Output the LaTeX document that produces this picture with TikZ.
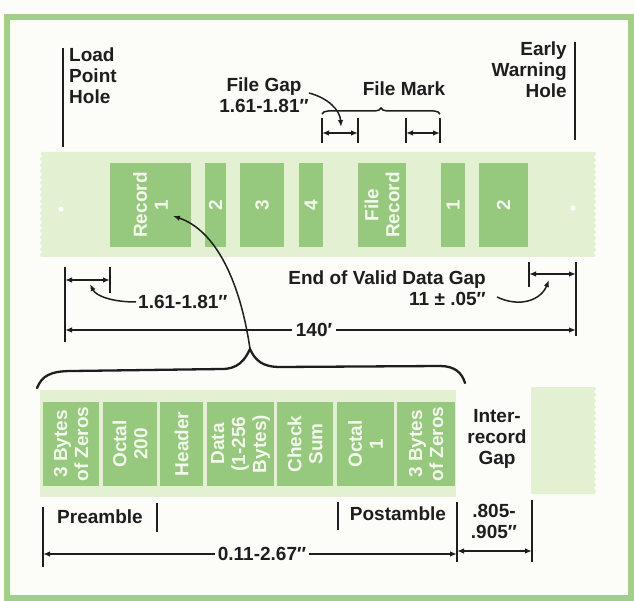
\documentclass[tikz,border=0pt]{standalone}
\usepackage{fontspec}
\setmainfont{Liberation Sans}
\usetikzlibrary{arrows.meta,decorations.pathmorphing,decorations.pathreplacing}
\definecolor{frameg}{RGB}{162,207,138}
\definecolor{tapeg}{RGB}{227,240,210}
\definecolor{recg}{RGB}{150,200,125}
\definecolor{ink}{RGB}{30,30,30}
\definecolor{paper}{RGB}{252,253,249}
\definecolor{rtxt}{RGB}{243,249,237}
\begin{document}
\begin{tikzpicture}[x=1pt,y=-1pt,
  lbl/.style={font=\fontsize{19}{21}\selectfont\bfseries, text=ink, inner sep=0pt},
  rec/.style={fill=recg, rotate=90, inner sep=0pt, font=\fontsize{19}{21}\selectfont\bfseries, text=rtxt, align=center, minimum width=84pt},
  ln/.style={draw=ink, line width=1.5pt},
  dbl/.style={ln, {Latex[length=7pt,width=5.5pt]}-{Latex[length=7pt,width=5.5pt]}},
  arr/.style={ln, -{Latex[length=7pt,width=5.5pt]}},
  torn/.style={decoration={snake, amplitude=1.2pt, segment length=6pt}},
]
\useasboundingbox (0,0) rectangle (634,601);
\fill[paper] (0,0) rectangle (634,601);
\draw[frameg, line width=6pt] (7,17) rectangle (631,598);

% ---------- upper tape ----------
\fill[tapeg] (41,152) -- (595,152) decorate[torn]{-- (595,257)} -- (41,257) decorate[torn]{-- (41,152)} -- cycle;
\node[rec, minimum height=81pt] (r1) at (150.5,205) {Record\\1};
\node[rec, minimum height=21pt] (r2) at (215.5,205) {2};
\node[rec, minimum height=44pt] (r3) at (262,205) {3};
\node[rec, minimum height=24pt] (r4) at (311,205) {4};
\node[rec, minimum height=48pt] (fr) at (382,205) {File\\Record};
\node[rec, minimum height=24pt] (s1) at (453,205) {1};
\node[rec, minimum height=49pt] (s2) at (503.5,205) {2};
\fill[white] (61,209) circle (2.5);
\fill[white] (573,208) circle (2.5);

% ---------- top labels ----------
\node[lbl, align=left, anchor=west] (lph) at (69,76) {Load\\Point\\Hole};
\coordinate (lpt) at (63,48); \coordinate (lpb) at (63,147);
\draw[ln] (lpt) -- (lpb);
\node[lbl, align=right, anchor=east] (ewh) at (567,70) {Early\\Warning\\Hole};
\coordinate (ewt) at (575,42); \coordinate (ewb) at (575,140);
\draw[ln] (ewt) -- (ewb);

\node[lbl, align=center] (fg) at (264,95) {File Gap\\1.61-1.81″};
\node[lbl] (fm) at (404,89) {File Mark};
\coordinate (fmL) at (322,114); \coordinate (fmR) at (440,114);
\draw[ln, decorate, decoration={brace, amplitude=6pt}] (fmL) -- (fmR);
\foreach \n/\x in {g1/322,g2/358,g3/406,g4/440}{
  \coordinate (\n t) at (\x,118); \coordinate (\n b) at (\x,143); \coordinate (\n m) at (\x,133);
  \draw[ln] (\n t) -- (\n b);
}
\draw[dbl] (g1m) -- (g2m);
\draw[dbl] (g3m) -- (g4m);
\coordinate (fgs) at (309,93); \coordinate (fgt) at (341,127);
\draw[arr] (fgs) .. controls (328,98) and (340,110) .. (fgt);

% ---------- dimensions under upper tape ----------
\coordinate (lvt) at (65,267); \coordinate (lvb) at (65,342);
\coordinate (ltt) at (110,267); \coordinate (ltb) at (110,293);
\draw[ln] (lvt) -- (lvb);
\draw[ln] (ltt) -- (ltb);
\coordinate (lda) at (65,280); \coordinate (ldb) at (110,280);
\draw[dbl] (lda) -- (ldb);
\node[lbl, anchor=west] (lpg) at (138,302) {1.61-1.81″};
\coordinate (lcs) at (136,302); \coordinate (lct) at (90,284);
\draw[arr] (lcs) .. controls (112,302) and (96,296) .. (lct);

\coordinate (rvt) at (576,262); \coordinate (rvb) at (576,336);
\coordinate (rtt) at (529,262); \coordinate (rtb) at (529,287);
\draw[ln] (rvt) -- (rvb);
\draw[ln] (rtt) -- (rtb);
\coordinate (rda) at (529,274); \coordinate (rdb) at (576,274);
\draw[dbl] (rda) -- (rdb);
\node[lbl, align=right, anchor=east] (evd) at (486,288) {End of Valid Data Gap\\11 ± .05″};
\coordinate (rcs) at (497,297); \coordinate (rct) at (549,280);
\draw[arr] (rcs) .. controls (520,308) and (541,300) .. (rct);

\node[lbl] (l140) at (314,330) {140′};
\coordinate (l140a) at (65,330); \coordinate (l140b) at (576,330);
\draw[arr] (l140.west) ++(-4,0) -- (l140a);
\draw[arr] (l140.east) ++(4,0) -- (l140b);

% ---------- big brace and arrow ----------
\coordinate (btip) at (250,349);
\draw[ink, line width=2.3pt, line cap=round] (37,388) .. controls (42,376) and (50,371) .. (72,371) -- (222,369)
  .. controls (238,369) and (245,360) .. (btip)
  .. controls (255,360) and (262,367) .. (280,367) -- (440,366)
  .. controls (455,366) and (462,373) .. (465,383);
\coordinate (r1t) at (173,216);
\draw[arr] (btip) .. controls (240,280) and (215,230) .. (r1t);

% ---------- lower tape ----------
\fill[tapeg] (40,390) rectangle (456,497);
\node[rec, minimum height=56pt] (b1) at (71,444) {3 Bytes\\of Zeros};
\node[rec, minimum height=54pt] (b2) at (130,444) {Octal\\200};
\node[rec, minimum height=43pt] (b3) at (181.5,444) {Header};
\node[rec, minimum height=67pt] (b4) at (240.5,444) {Data\\(1-256\\Bytes)};
\node[rec, minimum height=56pt] (b5) at (305,444) {Check\\Sum};
\node[rec, minimum height=57pt] (b6) at (365.5,444) {Octal\\1};
\node[rec, minimum height=58pt] (b7) at (426,444) {3 Bytes\\of Zeros};
\fill[tapeg] (531,387) -- (595,387) decorate[torn]{-- (595,494)} -- (531,494) -- cycle;
\node[lbl, align=center] (irg) at (497,439) {Inter-\\record\\Gap};

% ---------- lower dimensions ----------
\coordinate (pvt) at (43,507); \coordinate (pvb) at (43,567);
\coordinate (ptt) at (157,503); \coordinate (ptb) at (157,532);
\coordinate (qtt) at (338,502); \coordinate (qtb) at (338,530);
\coordinate (gvt) at (457,502); \coordinate (gvb) at (457,562);
\coordinate (hvt) at (532,500); \coordinate (hvb) at (532,562);
\draw[ln] (pvt) -- (pvb);
\draw[ln] (ptt) -- (ptb);
\draw[ln] (qtt) -- (qtb);
\draw[ln] (gvt) -- (gvb);
\draw[ln] (hvt) -- (hvb);
\node[lbl] (pre) at (100,517) {Preamble};
\node[lbl] (post) at (398,514) {Postamble};
\node[lbl, align=center] (irgd) at (494,521) {.805-\\.905″};
\node[lbl] (rlen) at (262,554) {0.11-2.67″};
\coordinate (rla) at (43,554); \coordinate (rlb) at (457,554);
\draw[arr] (rlen.west) ++(-3,0) -- (rla);
\draw[arr] (rlen.east) ++(3,0) -- (rlb);
\coordinate (ga) at (457,551); \coordinate (gb) at (532,551);
\draw[dbl] (ga) -- (gb);
\end{tikzpicture}
\end{document}
